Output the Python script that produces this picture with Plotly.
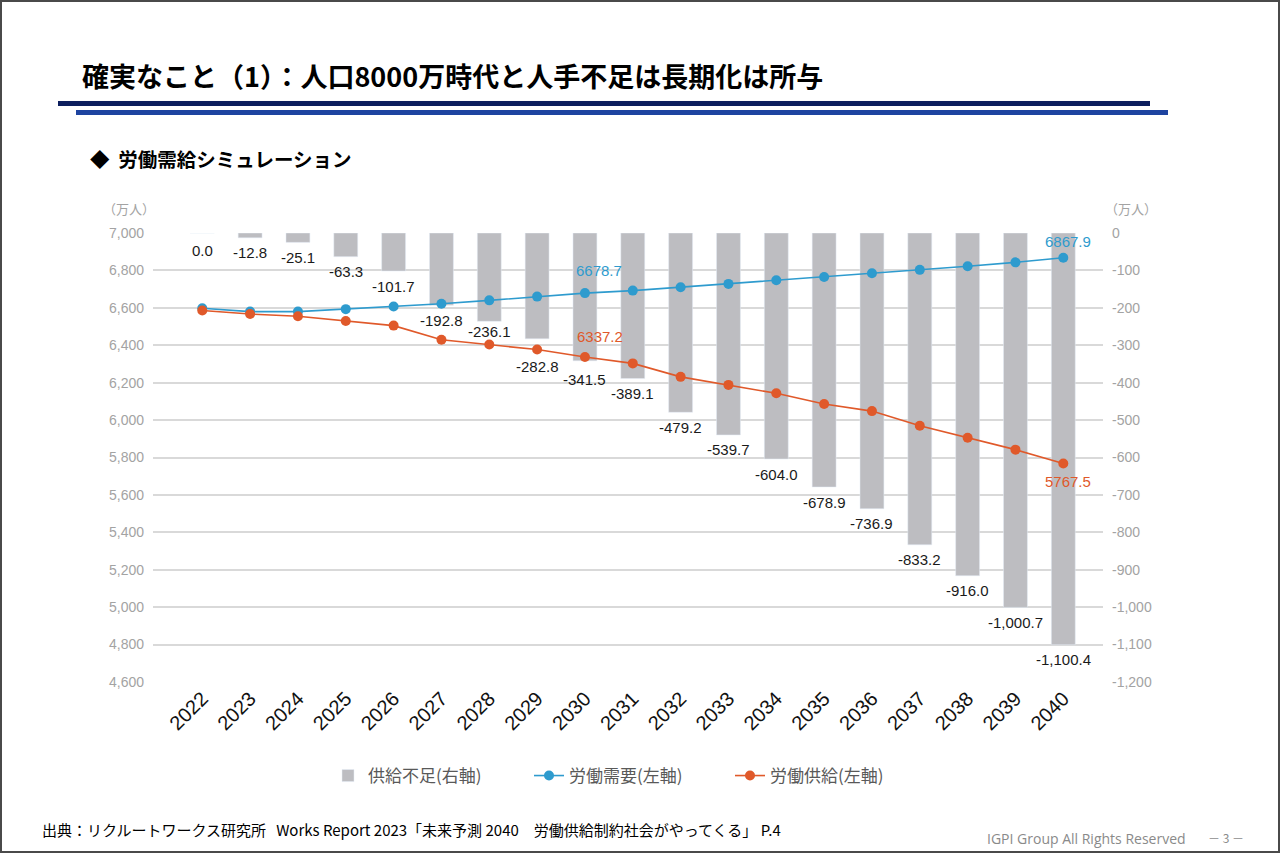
import plotly.graph_objects as go

# ---------------- data ----------------
years = [str(y) for y in range(2022, 2041)]
shortage = [0.0, -12.8, -25.1, -63.3, -101.7, -192.8, -236.1, -282.8, -341.5, -389.1,
            -479.2, -539.7, -604.0, -678.9, -736.9, -833.2, -916.0, -1000.7, -1100.4]
demand = [6598, 6580, 6580, 6593, 6607, 6622, 6640, 6660, 6678.7, 6692,
          6710, 6728, 6747, 6765, 6785, 6803, 6822, 6843, 6867.9]
supply = [6586, 6567, 6555, 6530, 6505, 6429, 6404, 6377, 6337.2, 6303,
          6231, 6188, 6143, 6086, 6048, 5970, 5906, 5842, 5767.5]
left_ticks = [4600, 4800, 5000, 5200, 5400, 5600, 5800, 6000, 6200, 6400, 6600, 6800, 7000]
right_ticks = [0, -100, -200, -300, -400, -500, -600, -700, -800, -900, -1000, -1100, -1200]
labelled_idx = [8, 18]  # points whose values are printed on the lines

names = ["供給不足(右軸)", "労働需要(左軸)", "労働供給(左軸)"]
title = "確実なこと（1）：人口8000万時代と人手不足は長期化は所与"
subtitle = "◆  労働需給シミュレーション"
source = "出典：リクルートワークス研究所   Works Report 2023「未来予測 2040　労働供給制約社会がやってくる」 P.4"
rights = "IGPI Group All Rights Reserved"
page = "－ 3 －"
unit = "（万人）"

# ---------------- layout / style constants ----------------
FW, FH = 1280, 853
L, R, T, B = 153, 177, 233, 171
PW, PH = FW - L - R, FH - T - B

def xp(px):
    return (px - L) / PW

def yp(py):
    return (FH - B - py) / PH

BAR_C = "#BDBDC1"
BLUE = "#2E9BCE"
ORANGE = "#E0592A"
GRID = "#D9D9D9"
TICK_C = "#A3A3A3"
NUMF = "Liberation Sans, Arial, sans-serif"
JPF = "Noto Sans CJK JP, sans-serif"

# label placement tweaks (pixels)
BAR_LABEL_GAP = 15
bar_label_nudge = {0: 2, 6: -5, 7: 13, 8: 4}
line_label_shift = {  # (series, index): (xshift, yshift)
    ("d", 8): (14, 23), ("d", 18): (5, 16),
    ("s", 8): (15, 21), ("s", 18): (5, -18),
}

fig = go.Figure()

fig.add_trace(go.Bar(
    x=years, y=shortage, name=names[0], yaxis="y",
    marker=dict(color=BAR_C), width=0.5,
))
fig.add_trace(go.Scatter(
    x=years, y=demand, name=names[1], yaxis="y2", mode="lines+markers",
    line=dict(color=BLUE, width=1.6), marker=dict(color=BLUE, size=10),
))
fig.add_trace(go.Scatter(
    x=years, y=supply, name=names[2], yaxis="y2", mode="lines+markers",
    line=dict(color=ORANGE, width=1.6), marker=dict(color=ORANGE, size=10),
))

annotations = []
# bar value labels (category axis -> position index)
for i, v in enumerate(shortage):
    annotations.append(dict(
        x=i, y=v, xref="x", yref="y", text=f"{v:,.1f}", showarrow=False,
        yshift=-(BAR_LABEL_GAP + bar_label_nudge.get(i, 0)),
        font=dict(family=NUMF, size=15, color="#1a1a1a"),
    ))
# line value labels
for key, vals, col in (("d", demand, BLUE), ("s", supply, ORANGE)):
    for i in labelled_idx:
        xs, ys = line_label_shift[(key, i)]
        annotations.append(dict(
            x=i, y=vals[i], xref="x", yref="y2", text=f"{vals[i]:.1f}",
            showarrow=False, xshift=xs, yshift=ys,
            font=dict(family=NUMF, size=15, color=col),
        ))

def pa(text, x, y, xanchor, size, color, family=JPF):
    return dict(text=text, x=xp(x), y=yp(y), xref="paper", yref="paper",
                xanchor=xanchor, yanchor="middle", showarrow=False,
                font=dict(family=family, size=size, color=color))

annotations += [
    pa("<b>" + title + "</b>", 80, 75, "left", 27, "#000000"),
    pa("<b>" + subtitle + "</b>", 88, 158, "left", 19.5, "#000000"),
    pa(unit, 129, 208, "center", 13, TICK_C),
    pa(unit, 1131, 208, "center", 13, TICK_C),
    pa(source, 40, 829, "left", 15, "#000000"),
    pa(rights, 1188, 838, "right", 14, "#8a8a8a", "Open Sans, Noto Sans, sans-serif"),
    pa(page, 1226, 837, "center", 12, "#8a8a8a"),
]

shapes = [
    dict(type="rect", xref="paper", yref="paper", x0=xp(58), x1=xp(1150), y0=yp(101), y1=yp(106),
         fillcolor="#0D1F5E", line=dict(width=0), layer="above"),
    dict(type="rect", xref="paper", yref="paper", x0=xp(76), x1=xp(1168), y0=yp(110), y1=yp(115),
         fillcolor="#1E44A0", line=dict(width=0), layer="above"),
    dict(type="rect", xref="paper", yref="paper", x0=xp(1), x1=xp(FW - 1), y0=yp(1), y1=yp(FH - 1),
         line=dict(color="#4a4a4a", width=2), fillcolor="rgba(0,0,0,0)", layer="above"),
]

fig.update_layout(
    width=FW, height=FH,
    margin=dict(l=L, r=R, t=T, b=B, pad=0),
    paper_bgcolor="white", plot_bgcolor="white",
    showlegend=True,
    legend=dict(orientation="h", x=xp(328), y=yp(776), xanchor="left", yanchor="middle",
                font=dict(family=JPF, size=17, color="#595959"),
                entrywidth=156, entrywidthmode="pixels",
                traceorder="normal", bgcolor="rgba(0,0,0,0)"),
    xaxis=dict(type="category", range=[-1.03, 18.83], tickangle=-45,
               tickfont=dict(family=NUMF, size=20, color="#111111"),
               showgrid=False, showline=False, ticks="", zeroline=False),
    yaxis=dict(side="right", range=[-1200, 0], tickvals=right_ticks,
               ticktext=[f"{v:,}" for v in right_ticks],
               tickfont=dict(family=NUMF, size=14, color=TICK_C),
               showgrid=True, gridcolor=GRID, gridwidth=1.5, zeroline=False,
               showline=False, ticks="", ticklabelstandoff=8),
    yaxis2=dict(side="left", overlaying="y", range=[4600, 7000], tickvals=left_ticks,
                ticktext=[f"{v:,}" for v in left_ticks],
                tickfont=dict(family=NUMF, size=14, color=TICK_C),
                showgrid=False, zeroline=False, showline=False, ticks="", ticklabelstandoff=8),
    annotations=annotations,
    shapes=shapes,
)

fig.write_html("out.html", config={"displayModeBar": False},
               post_script="document.body.style.margin='0';")
